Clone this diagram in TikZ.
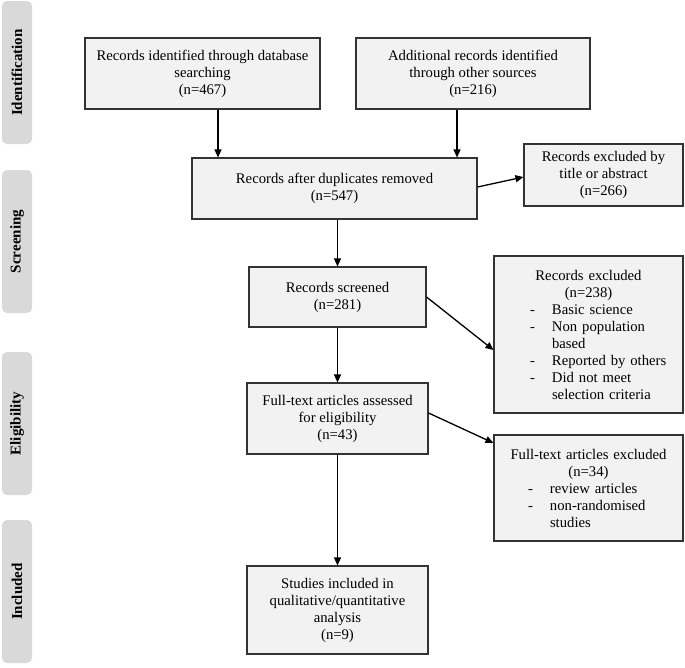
\documentclass[tikz,border=0pt]{standalone}
\usepackage{fontspec}
\setmainfont{Liberation Serif}
\usetikzlibrary{arrows.meta}
\definecolor{boxfill}{HTML}{F2F2F2}
\definecolor{labfill}{HTML}{D9D9D9}
\definecolor{edge}{HTML}{333333}
\begin{document}
\begin{tikzpicture}[x=1pt,y=-1pt,
  box/.style={draw=edge, line width=1.1pt, fill=boxfill, align=center, inner sep=2pt,
    font=\fontsize{14.7}{17}\selectfont},
  listbox/.style={box, inner xsep=0pt, align=left},
  phase/.style={fill=labfill, rounded corners=5pt, rotate=90, inner sep=0pt,
    font=\fontsize{15}{18}\selectfont\bfseries},
  arr/.style={-{Triangle[width=7pt,length=8pt]}, line width=1.3pt, draw=black}]
\useasboundingbox (0,0) rectangle (685,667);

% phase labels
\node[phase, minimum width=143pt, minimum height=30pt] (pid) at (17,72.5) {Identification};
\node[phase, minimum width=143pt, minimum height=30pt] (psc) at (17,241.5) {Screening};
\node[phase, minimum width=143pt, minimum height=30pt] (pel) at (17,423.5) {Eligibility};
\node[phase, minimum width=143pt, minimum height=30pt] (pin) at (17,591.5) {Included};

% boxes
\node[box, minimum width=235pt, minimum height=71pt] (b1) at (202.5,73.5)
  {Records identified through database\\searching\\(n=467)};
\node[box, minimum width=234pt, minimum height=71pt] (b2) at (473,73.5)
  {Additional records identified\\through other sources\\(n=216)};
\node[box, minimum width=285pt, minimum height=61pt] (dup) at (334.5,188.5)
  {Records after duplicates removed\\(n=547)};
\node[box, minimum width=159pt, minimum height=62pt] (ex1) at (603.5,175)
  {Records excluded by\\title or abstract\\(n=266)};
\node[box, minimum width=177pt, minimum height=60pt] (scr) at (337.5,297)
  {Records screened\\(n=281)};
\node[listbox, text width=189pt, minimum height=157pt] (ex2) at (588.5,334.5)
  {{\centering Records excluded\\(n=238)\par}
   \hspace*{36pt}\makebox[22pt][l]{-}Basic science\\
   \hspace*{36pt}\makebox[22pt][l]{-}Non population\\
   \hspace*{58pt}based\\
   \hspace*{36pt}\makebox[22pt][l]{-}Reported by others\\
   \hspace*{36pt}\makebox[22pt][l]{-}Did not meet\\
   \hspace*{58pt}selection criteria};
\node[box, minimum width=181pt, minimum height=71pt] (full) at (337.5,418.5)
  {Full-text articles assessed\\for eligibility\\(n=43)};
\node[listbox, text width=189pt, minimum height=106pt] (ex3) at (588.5,488)
  {{\centering Full-text articles excluded\\(n=34)\par}
   \hspace*{34pt}\makebox[22pt][l]{-}review articles\\
   \hspace*{34pt}\makebox[22pt][l]{-}non-randomised\\
   \hspace*{56pt}studies};
\node[box, minimum width=181pt, minimum height=88pt] (stu) at (337.5,610)
  {Studies included in\\qualitative/quantitative\\analysis\\(n=9)};

% connectors
\draw[arr] ([xshift=15.5pt]b1.south) -- ([xshift=15.5pt]b1.south |- dup.north);
\draw[arr] ([xshift=-16pt]b2.south) -- ([xshift=-16pt]b2.south |- dup.north);
\draw[arr] ([yshift=1.5pt]dup.east) -- ([yshift=-2pt]ex1.west);
\draw[arr] (scr.north |- dup.south) -- (scr.north);
\draw[arr] (scr.east) -- ([yshift=-15.5pt]ex2.west);
\draw[arr] (scr.south) -- (full.north);
\draw[arr] ([yshift=5.5pt]full.east) -- ([yshift=45pt]ex3.west);
\draw[arr] (full.south) -- (stu.north);
\end{tikzpicture}
\end{document}
